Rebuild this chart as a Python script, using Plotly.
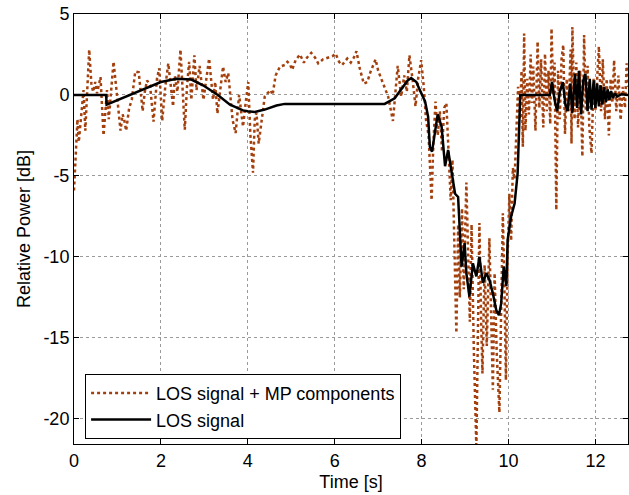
import plotly.graph_objects as go

# LOS signal + MP components (time [s], relative power [dB])
mp_t = [0.00, 0.05, 0.08, 0.11, 0.15, 0.20, 0.22, 0.26, 0.31, 0.35, 0.40, 0.44, 0.49, 0.53, 0.57, 0.61,
        0.68, 0.72, 0.76, 0.80, 0.84, 0.91, 0.97, 1.03, 1.07, 1.12, 1.16, 1.20, 1.27, 1.33, 1.41, 1.49,
        1.58, 1.63, 1.68, 1.75, 1.83, 1.91, 1.96, 2.03, 2.10, 2.17, 2.28, 2.32, 2.38, 2.45, 2.55, 2.60,
        2.65, 2.70, 2.77, 2.82, 2.89, 2.98, 3.05, 3.11, 3.20, 3.25, 3.30, 3.37, 3.43, 3.49, 3.55, 3.65,
        3.72, 3.80, 3.89, 3.95, 4.01, 4.06, 4.12, 4.16, 4.20, 4.25, 4.33, 4.39, 4.45, 4.53, 4.57, 4.64,
        4.74, 4.85, 4.91, 4.97, 5.02, 5.10, 5.20, 5.29, 5.36, 5.46, 5.55, 5.62, 5.73, 5.85, 5.95, 6.02,
        6.10, 6.17, 6.29, 6.37, 6.44, 6.50, 6.58, 6.67, 6.75, 6.82, 6.94, 7.00, 7.07, 7.15, 7.23, 7.34,
        7.40, 7.45, 7.53, 7.60, 7.66, 7.72, 7.79, 7.86, 7.92, 7.99, 8.05, 8.10, 8.16, 8.23, 8.27, 8.32,
        8.37, 8.42, 8.47, 8.52, 8.57, 8.62, 8.67, 8.71, 8.76, 8.80, 8.84, 8.88, 8.93, 8.97, 9.03, 9.07,
        9.11, 9.15, 9.20, 9.26, 9.30, 9.33, 9.37, 9.40, 9.45, 9.50, 9.56, 9.60, 9.64, 9.68, 9.73, 9.79,
        9.83, 9.87, 9.91, 9.94, 9.98, 10.02, 10.06, 10.10, 10.14, 10.18, 10.22, 10.26, 10.30, 10.33,
        10.36, 10.39, 10.43, 10.47, 10.51, 10.54, 10.57, 10.62, 10.67, 10.71, 10.75, 10.80, 10.84,
        10.88, 10.92, 10.96, 10.99, 11.03, 11.06, 11.10, 11.14, 11.18, 11.22, 11.26, 11.30, 11.34,
        11.38, 11.43, 11.45, 11.47, 11.52, 11.56, 11.60, 11.65, 11.70, 11.74, 11.78, 11.82, 11.86,
        11.91, 11.96, 12.00, 12.04, 12.08, 12.13, 12.17, 12.22, 12.26, 12.31, 12.35, 12.39, 12.43,
        12.48, 12.53, 12.58, 12.63, 12.68, 12.72, 12.76]
mp_db = [-5.9, -3.5, -1.5, -2.9, -1.8, -0.4, 0.3, -2.2, 1.0, 2.8, 0.7, 0.2, 0.8, 0.1, 0.6, 1.1,
         -2.5, -0.8, 0.3, -1.5, -0.3, 2.05, 0.5, -0.9, -2.2, -1.2, -1.6, -2.2, -0.8, -0.3, 1.45, 1.4,
         -1.0, 0.2, 0.9, 0.6, -1.65, 1.0, 1.65, -1.6, 0.5, 1.95, -0.7, 1.2, 0.2, 2.8, -2.15, 0.5,
         2.05, -0.3, 2.45, 0.3, 1.8, -0.3, 1.2, 2.25, -0.3, 0.8, -1.15, 0.6, 1.75, 0.8, 1.35, -1.55,
         -2.35, 0.0, -1.95, -0.5, 0.8, -2.5, -4.8, -1.5, -1.1, -3.0, -1.3, -0.1, 0.1, 0.3, 0.0, 1.2,
         1.75, 1.85, 2.05, 1.9, 1.55, 2.15, 2.5, 2.0, 2.3, 2.6, 2.3, 1.95, 2.2, 2.3, 2.4, 2.55,
         2.05, 1.85, 2.25, 2.0, 2.3, 2.7, 1.6, 0.7, 0.8, 1.4, 2.2, 1.5, 1.0, 0.4, -0.1, -1.6,
         0.5, 1.8, -0.1, 1.2, 0.2, 2.45, 1.0, -0.7, 1.0, 2.15, 0.5, -1.5, -2.5, -6.5, -3.0, -0.4,
         -2.5, -1.0, -3.5, -0.8, -0.5, -3.2, -6.5, -4.0, -9.0, -14.7, -8.0, -12.5, -7.0, -12.0, -5.4, -10.0,
         -14.0, -8.0, -15.5, -21.8, -12.0, -7.9, -14.0, -17.2, -10.5, -15.5, -8.85, -14.0, -18.2, -11.0, -16.0, -19.6,
         -12.0, -7.3, -12.5, -17.6, -10.0, -6.1, -9.0, -4.5, -5.2, -2.0, 0.5, -1.5, 1.5, -3.2,
         3.8, -2.2, 1.0, -1.2, 2.5, -0.5, 1.75, -2.2, 3.3, -0.8, 2.2, -2.0, 2.55,
         -1.0, 1.5, -1.8, 4.1, 0.0, 2.0, -7.1, 1.5, -1.5, 2.2, 3.1, -2.4, 1.0,
         -1.0, 2.8, -3.0, 4.2, -1.5, 2.0, -2.0, 1.5, -3.8, 3.7, -1.0, 1.8, -2.0,
         -3.6, 1.0, -1.0, 1.5, 3.0, -1.0, 2.2, -1.5, 1.0, -2.5, 1.0, -0.5, 2.15,
         -1.0, 1.2, -1.55, 0.5, -0.8, 1.95, 0.5]

# LOS signal
los_t = [0.00, 0.74, 0.75, 2.00, 2.36, 2.70, 2.97, 3.31, 3.59, 3.89, 4.00, 4.16, 4.39, 4.66, 4.85,
         7.15, 7.38, 7.57, 7.68, 7.76, 7.88, 7.96, 8.08, 8.15, 8.19, 8.24, 8.31, 8.37, 8.46, 8.54,
         8.61, 8.69, 8.77, 8.84, 8.92, 8.99, 9.03, 9.10, 9.18, 9.26, 9.33, 9.41, 9.49, 9.56, 9.64,
         9.72, 9.78, 9.83, 9.89, 9.95, 9.98, 10.06, 10.14, 10.21, 10.27, 10.95, 11.00, 11.06, 11.12,
         11.18, 11.25, 11.31, 11.36, 11.42, 11.47, 11.53, 11.58, 11.62, 11.67, 11.72, 11.77, 11.82,
         11.87, 11.91, 11.96, 12.00, 12.04, 12.08, 12.12, 12.16, 12.20, 12.24, 12.28, 12.32, 12.36,
         12.40, 12.45, 12.50, 12.60, 12.76]
los_db = [0.0, 0.0, -0.6, 0.8, 1.0, 0.95, 0.6, 0.0, -0.6, -0.95, -1.0, -1.05, -0.9, -0.65, -0.55,
          -0.55, -0.2, 0.5, 0.9, 1.05, 0.8, 0.3, -0.4, -1.35, -3.2, -3.5, -2.35, -1.2, -1.95, -4.4,
          -3.4, -4.85, -6.1, -6.3, -10.6, -9.15, -11.0, -12.45, -10.4, -11.2, -10.0, -11.6, -11.0, -11.4, -12.25,
          -13.3, -13.6, -12.9, -10.6, -11.8, -8.95, -7.5, -6.7, -4.85, 0.0, 0.0, 0.8, -0.3, -1.0,
          0.2, 0.8, -0.6, -1.0, 0.7, -1.1, 1.3, -0.8, 1.5, -1.2, 0.9, 1.3, -1.0,
          1.0, -0.9, 0.9, -0.8, 0.7, -0.7, 0.6, -0.6, 0.5, -0.45, 0.35, -0.3, 0.25,
          -0.2, 0.1, -0.1, 0.05, 0.0]

x_ticks = [0, 2, 4, 6, 8, 10, 12]
y_ticks = [-20, -15, -10, -5, 0, 5]

FONT = "Arial, Liberation Sans, sans-serif"
FS = 18

fig = go.Figure()
fig.add_trace(go.Scatter(x=mp_t, y=mp_db, mode="lines", name="LOS signal + MP components",
                         line=dict(color="#A3400E", width=2.5, dash="dot")))
fig.add_trace(go.Scatter(x=los_t, y=los_db, mode="lines", name="LOS signal",
                         line=dict(color="black", width=2.5)))

axis_common = dict(showline=True, linecolor="black", linewidth=1, mirror="ticks",
                   ticks="inside", ticklen=5, tickcolor="black",
                   showgrid=True, gridcolor="#9a9a9a", griddash="dot", gridwidth=1,
                   zeroline=False, tickfont=dict(family=FONT, size=FS, color="black"))

fig.update_xaxes(range=[0, 12.75], tickvals=x_ticks, ticktext=[str(v) for v in x_ticks],
                 title=dict(text="Time [s]", font=dict(family=FONT, size=FS, color="black"), standoff=5),
                 **axis_common)
fig.update_yaxes(range=[-21.55, 5], tickvals=y_ticks, ticktext=[str(v) for v in y_ticks],
                 title=dict(text="Relative Power [dB]", font=dict(family=FONT, size=FS, color="black"), standoff=8),
                 **axis_common)

fig.update_layout(
    width=629, height=495,
    margin=dict(l=74, r=1, t=14, b=51),
    paper_bgcolor="white", plot_bgcolor="white",
    font=dict(family=FONT, size=FS, color="black"),
    legend=dict(x=0.02, y=0.163, xanchor="left", yanchor="top",
                bgcolor="white", bordercolor="black", borderwidth=1,
                font=dict(family=FONT, size=FS, color="black"),
                itemwidth=60, tracegroupgap=0),
    showlegend=True,
)

fig.write_html("out.html")
